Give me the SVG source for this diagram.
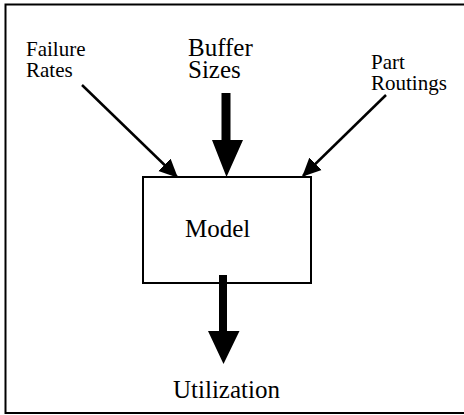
<svg xmlns="http://www.w3.org/2000/svg" width="464" height="415" viewBox="0 0 464 415">
<defs>
<style>
text{font-family:"Liberation Serif","Times New Roman",serif;fill:#000}
.s{font-size:21px}
.l{font-size:25px}
.frame{fill:none;stroke:#000;stroke-width:2}
.box{fill:#fff;stroke:#000;stroke-width:2}
.thin{stroke:#000;stroke-width:2.5;fill:none}
.fat{fill:#000;stroke:none}
</style>
<marker id="ah" markerWidth="8" markerHeight="8" refX="7" refY="4" orient="auto" markerUnits="strokeWidth">
<path d="M0,0.5 L7.5,4 L0,7.5 Z" fill="#000"/>
</marker>
</defs>
<path class="frame" d="M464,4.5 H5.5 V413 H464"/>
<g id="model">
<rect class="box" x="143" y="177" width="168" height="106"/>
<text class="l" x="185" y="237">Model</text>
</g>
<g id="failure-rates">
<text class="s" x="26" y="56">Failure</text>
<text class="s" x="26" y="77">Rates</text>
</g>
<g id="buffer-sizes">
<text class="l" x="188" y="56">Buffer</text>
<text class="l" x="188" y="78">Sizes</text>
</g>
<g id="part-routings">
<text class="s" x="371" y="69">Part</text>
<text class="s" x="371" y="90">Routings</text>
</g>
<g id="utilization">
<text class="l" x="173" y="398">Utilization</text>
</g>
<g id="connectors">
<line class="thin" x1="82" y1="85" x2="177" y2="177" marker-end="url(#ah)"/>
<line class="thin" x1="386" y1="95" x2="303" y2="176" marker-end="url(#ah)"/>
<path class="fat" d="M221.5,93 H230.5 V140 H243 L226.5,177 L212,140 H221.5 Z"/>
<path class="fat" d="M219,275 H227 V331 H239.5 L223.5,364 L208,331 H219 Z"/>
</g>
</svg>
